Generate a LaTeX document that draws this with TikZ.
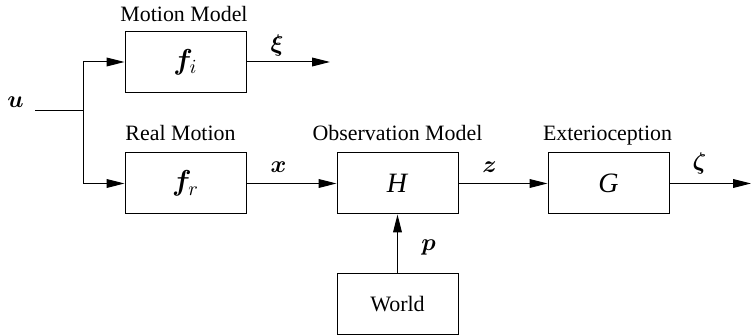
\documentclass[tikz,border=0pt,11pt]{standalone}
\usepackage{amsmath,bm}
\usepackage{fontspec}
\setmainfont{Liberation Serif}
\usetikzlibrary{arrows.meta}
\tikzset{
  blk/.style={draw, line width=0.5pt, minimum width=60.5pt, minimum height=30.5pt, inner sep=0pt, font=\fontsize{14}{16}\selectfont},
  lbl/.style={anchor=base, inner sep=0pt},
  sig/.style={anchor=base, inner sep=0pt, font=\fontsize{13}{15}\selectfont},
  conn/.style={line width=0.5pt, -{Triangle[length=9pt,width=4.4pt]}},
  wire/.style={line width=0.5pt}
}
\begin{document}
\begin{tikzpicture}[x=0.5pt,y=-0.5pt]
\useasboundingbox (0,0) rectangle (751,335);
% boxes
\node[blk] (fi) at (185.5,62) {$\bm{f}_i$};
\node[blk] (fr) at (185.5,183.5) {$\bm{f}_r$};
\node[blk] (H) at (397.5,183.5) {\textit{H}};
\node[blk] (G) at (608.5,183.5) {\textit{G}};
\node[blk, font=\fontsize{11}{13}\selectfont] (W) at (397.5,304) {World};
% titles
\node[lbl] (tfi) at (184,21.5) {Motion Model};
\node[lbl] (tfr) at (180.5,141) {Real Motion};
\node[lbl] (tH) at (397.5,141) {Observation Model};
\node[lbl] (tG) at (607.5,141) {Exterioception};
% coordinates
\coordinate (u0) at (35,111);
\coordinate (j) at (83,111);
\coordinate (xiend) at (330,62);
\coordinate (zetaend) at (751,183.5);
% wires
\draw[wire] (u0) -- (j);
\draw[conn] (j) |- (fi.west);
\draw[conn] (j) |- (fr.west);
\draw[conn] (fi.east) -- (xiend);
\draw[conn] (fr.east) -- (H.west);
\draw[conn] (H.east) -- (G.west);
\draw[conn] (G.east) -- (zetaend);
\draw[conn] (W.north) -- (H.south);
% signal labels
\node[sig] (lu) at (15.5,108) {$\bm{u}$};
\node[sig] (lxi) at (277,52) {$\bm{\xi}$};
\node[sig] (lx) at (278.5,173) {$\bm{x}$};
\node[sig] (lz) at (489.5,173) {$\bm{z}$};
\node[sig] (lzeta) at (699.5,170) {$\bm{\zeta}$};
\node[sig] (lp) at (428.5,251) {$\bm{p}$};
\end{tikzpicture}
\end{document}
